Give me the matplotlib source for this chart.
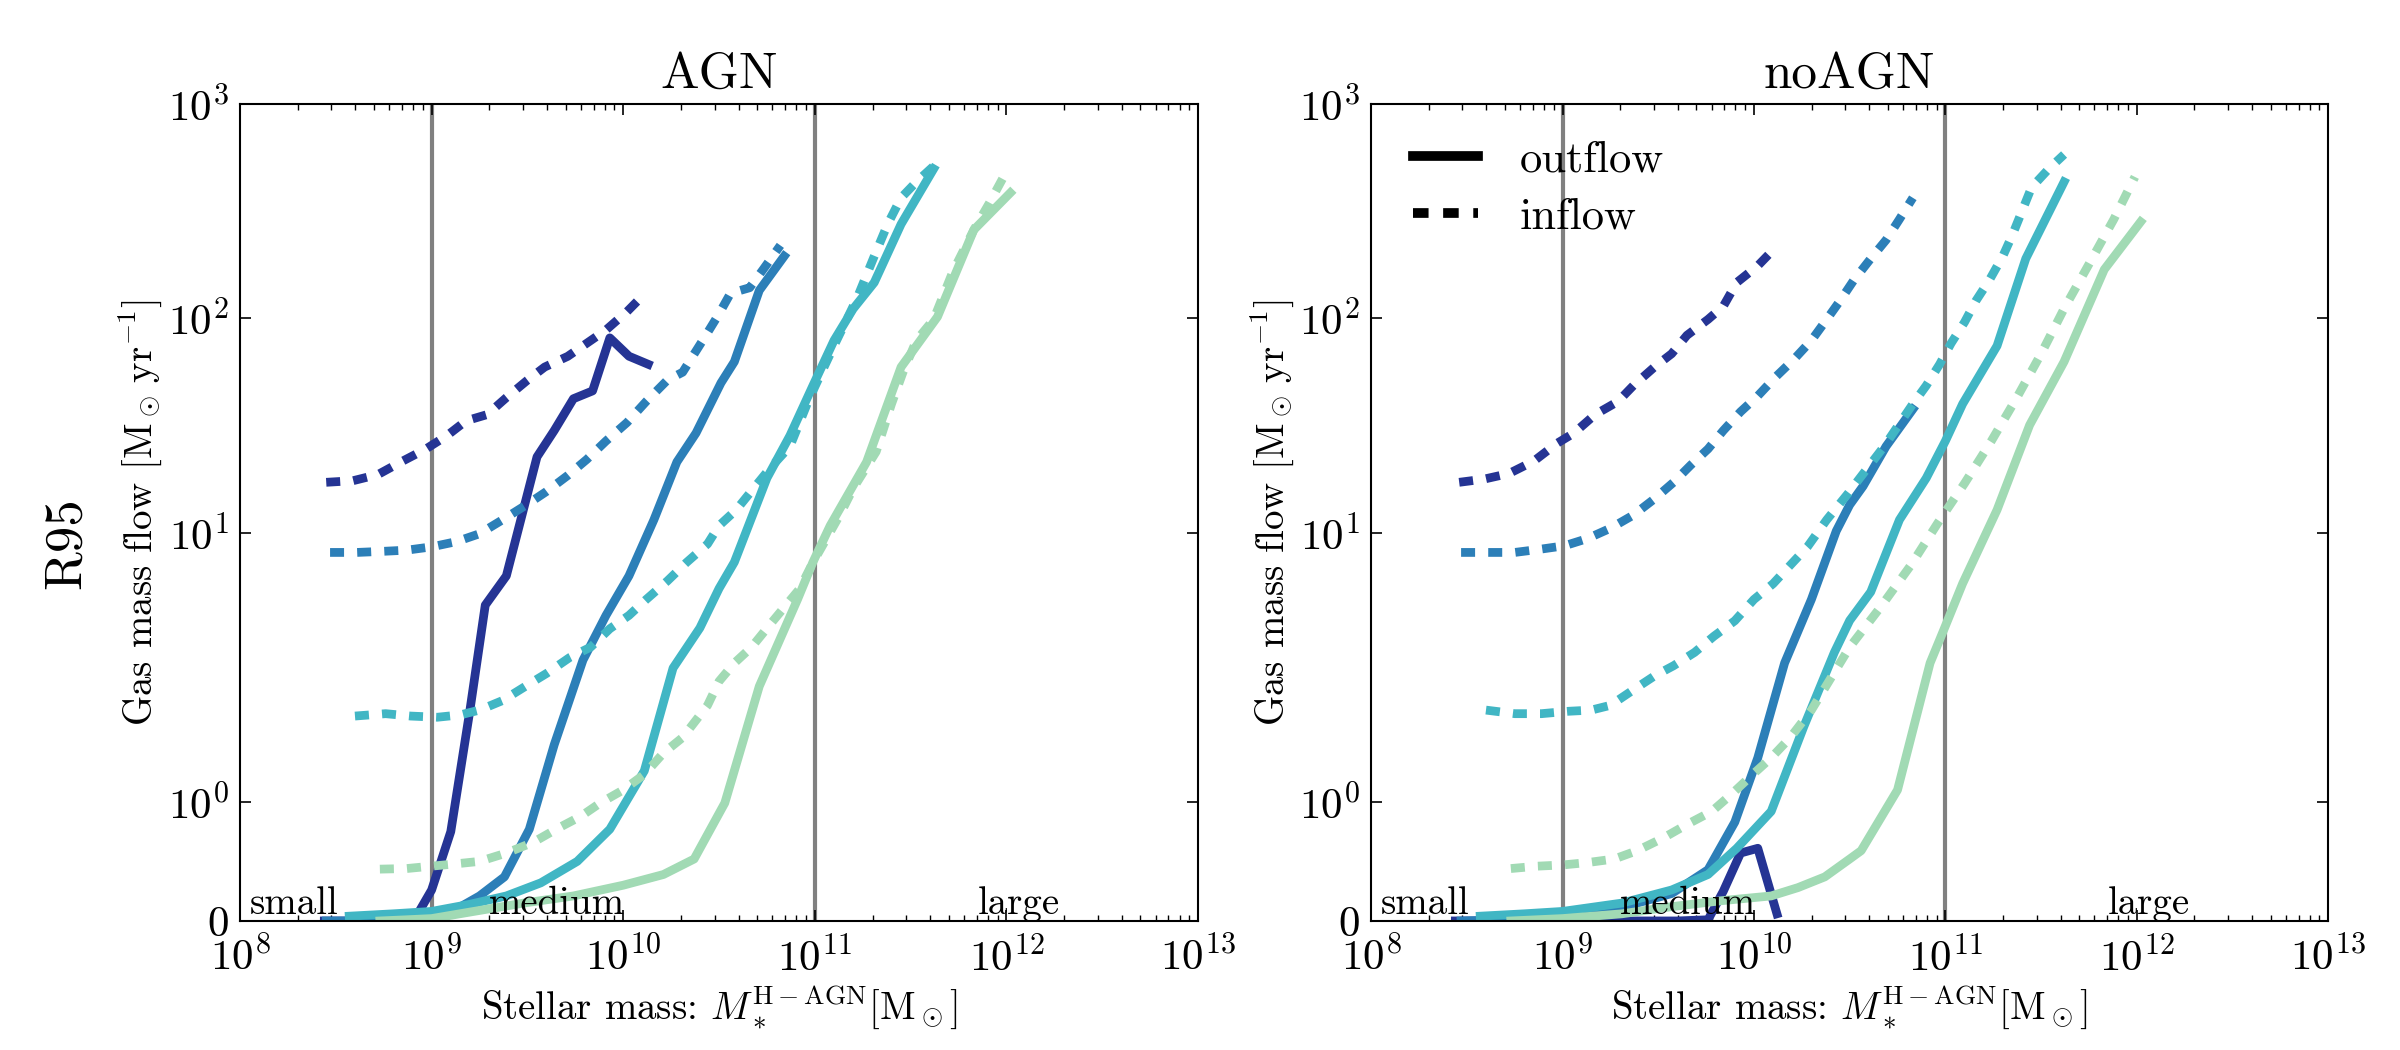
import numpy as np
import matplotlib
matplotlib.use("Agg")
import matplotlib.pyplot as plt
from matplotlib.lines import Line2D
from matplotlib.ticker import LogLocator, NullLocator, FixedLocator, FixedFormatter

plt.rcParams['font.family'] = 'serif'
plt.rcParams['font.serif'] = ['cmr10', 'DejaVu Serif']
plt.rcParams['mathtext.fontset'] = 'cm'
plt.rcParams['axes.formatter.use_mathtext'] = True
plt.rcParams['axes.unicode_minus'] = False

# ---------------- data ----------------
panel_titles = ['AGN', 'noAGN']
colors = ['#253494', '#2c7fb8', '#41b6c4', '#a1dab4']
region_labels = ['small', 'medium', 'large']
region_label_logm = [8.05, 9.30, 11.85]
region_label_y = 0.06
region_bounds = [1e9, 1e11]
ytick_vals = [0, 1, 10, 100, 1000]
ytick_labels = ['0', r'$\mathdefault{10^{0}}$', r'$\mathdefault{10^{1}}$',
                r'$\mathdefault{10^{2}}$', r'$\mathdefault{10^{3}}$']

# AGN, outflow (solid)
agn_out_navy_logm = [8.44, 8.55, 8.65, 8.75, 8.85, 8.91, 9.00, 9.10, 9.20, 9.28, 9.39, 9.55, 9.64, 9.74, 9.84, 9.93, 10.03, 10.13]
agn_out_navy = [0, 0, 0, 0, 0, 0.01, 0.26, 0.75, 1.77, 4.6, 6.3, 22.6, 30.0, 42.2, 45.9, 81.1, 66.6, 61.1]
agn_out_blue_logm = [8.45, 8.6, 8.75, 8.9, 9.00, 9.13, 9.25, 9.38, 9.51, 9.64, 9.79, 9.91, 10.03, 10.16, 10.28, 10.38, 10.51, 10.58, 10.71, 10.84]
agn_out_blue = [0, 0, 0, 0.01, 0.04, 0.10, 0.21, 0.37, 0.77, 1.48, 2.55, 4.12, 6.3, 11.5, 21.4, 29.2, 50.0, 62.8, 135, 195]
agn_out_cyan_logm = [8.57, 8.8, 9.00, 9.2, 9.39, 9.57, 9.76, 9.93, 10.11, 10.26, 10.40, 10.50, 10.58, 10.75, 10.87, 10.99, 11.10, 11.20, 11.31, 11.45, 11.62]
agn_out_cyan = [0.04, 0.06, 0.08, 0.14, 0.21, 0.32, 0.50, 0.77, 1.26, 2.34, 3.6, 5.5, 7.3, 18.0, 28.4, 48.6, 78.9, 110.8, 147, 275, 498]
agn_out_green_logm = [8.73, 8.87, 9.00, 9.22, 9.48, 9.74, 10.00, 10.21, 10.37, 10.53, 10.71, 10.91, 10.99, 11.08, 11.27, 11.45, 11.64, 11.83, 12.02]
agn_out_green = [0.0, 0.01, 0.02, 0.08, 0.15, 0.21, 0.30, 0.39, 0.52, 0.99, 1.97, 4.9, 7.3, 10.8, 21.4, 59.3, 101.7, 259, 385]

# AGN, inflow (dashed)
agn_in_navy_logm = [8.45, 8.59, 8.72, 8.84, 8.97, 9.08, 9.18, 9.29, 9.39, 9.50, 9.59, 9.71, 9.81, 9.91, 10.02, 10.11]
agn_in_navy = [17.2, 17.5, 18.7, 21.4, 24.6, 28.4, 33.3, 35.6, 42.7, 51.5, 59.3, 66.5, 76.6, 88.3, 107.6, 129.8]
agn_in_blue_logm = [8.47, 8.61, 8.75, 8.87, 9.00, 9.13, 9.25, 9.37, 9.50, 9.60, 9.71, 9.81, 9.91, 10.02, 10.12, 10.23, 10.31, 10.43, 10.50, 10.56, 10.66, 10.73, 10.82]
agn_in_blue = [8.1, 8.1, 8.2, 8.3, 8.6, 9.1, 9.9, 11.5, 13.6, 15.6, 18.5, 22.0, 26.8, 32.7, 41.0, 51.5, 56.1, 83, 105, 131, 139, 169, 219]
agn_in_cyan_logm = [8.60, 8.76, 8.89, 9.03, 9.15, 9.25, 9.37, 9.50, 9.60, 9.72, 9.83, 9.93, 10.03, 10.12, 10.23, 10.33, 10.44, 10.50, 10.59, 10.68, 10.77, 10.87, 10.96, 11.00, 11.10, 11.22, 11.31, 11.38, 11.45, 11.53, 11.62]
agn_in_cyan = [1.72, 1.74, 1.72, 1.71, 1.73, 1.77, 1.85, 1.98, 2.21, 2.62, 2.93, 3.57, 4.12, 4.89, 5.96, 7.27, 8.87, 10.8, 12.8, 16.1, 20.2, 25.3, 40, 48, 74.5, 124, 195, 275, 365, 433, 513]
agn_in_green_logm = [8.73, 8.87, 9.00, 9.13, 9.25, 9.39, 9.53, 9.65, 9.78, 9.88, 10.00, 10.11, 10.21, 10.31, 10.44, 10.50, 10.58, 10.67, 10.76, 10.84, 10.92, 10.99, 11.13, 11.20, 11.32, 11.40, 11.46, 11.53, 11.62, 11.72, 11.83, 11.91, 12.00]
agn_in_green = [0.435, 0.44, 0.46, 0.48, 0.50, 0.57, 0.66, 0.77, 0.88, 0.99, 1.10, 1.23, 1.41, 1.54, 1.81, 2.03, 2.47, 2.93, 3.68, 4.49, 5.47, 7.27, 12.1, 16.1, 23.9, 39.9, 56.1, 78.9, 98.9, 165, 259, 344, 484]

# noAGN, outflow (solid)
noagn_out_navy_logm = [8.44, 8.6, 8.8, 9.0, 9.2, 9.4, 9.6, 9.76, 9.84, 9.93, 10.02, 10.12]
noagn_out_navy = [0, 0, 0, 0, 0, 0, 0, 0.01, 0.25, 0.57, 0.61, 0.06]
noagn_out_blue_logm = [8.47, 8.7, 9.00, 9.22, 9.39, 9.57, 9.76, 9.90, 10.02, 10.16, 10.30, 10.43, 10.50, 10.57, 10.69, 10.83]
noagn_out_blue = [0, 0.01, 0.04, 0.08, 0.15, 0.23, 0.43, 0.83, 1.37, 2.47, 4.89, 10.2, 13.5, 16.5, 25.3, 37.7]
noagn_out_cyan_logm = [8.57, 8.8, 9.00, 9.31, 9.57, 9.76, 9.91, 10.09, 10.26, 10.42, 10.50, 10.61, 10.76, 10.90, 11.00, 11.09, 11.27, 11.42, 11.62]
noagn_out_cyan = [0.04, 0.06, 0.08, 0.15, 0.26, 0.39, 0.61, 0.92, 1.63, 2.77, 3.9, 5.3, 11.5, 18.0, 26.8, 39.9, 74.5, 190, 433]
noagn_out_green_logm = [8.73, 9.0, 9.31, 9.57, 9.83, 10.09, 10.23, 10.37, 10.50, 10.56, 10.75, 10.92, 11.00, 11.09, 11.27, 11.44, 11.62, 11.83, 12.02]
noagn_out_green = [0.0, 0.02, 0.06, 0.12, 0.17, 0.21, 0.28, 0.37, 0.52, 0.59, 1.10, 2.47, 3.68, 5.8, 12.8, 31.8, 62.8, 169, 282]

# noAGN, inflow (dashed)
noagn_in_navy_logm = [8.46, 8.59, 8.72, 8.85, 8.97, 9.06, 9.17, 9.29, 9.37, 9.48, 9.57, 9.65, 9.76, 9.84, 9.91, 10.02, 10.11]
noagn_in_navy = [17.2, 17.8, 18.9, 21.6, 26.1, 29.2, 35.6, 41.0, 48.6, 59.3, 68.4, 83.4, 98.9, 114, 147, 176, 213]
noagn_in_blue_logm = [8.47, 8.61, 8.75, 8.89, 9.01, 9.13, 9.25, 9.37, 9.48, 9.58, 9.67, 9.76, 9.84, 9.93, 10.02, 10.11, 10.21, 10.30, 10.38, 10.45, 10.52, 10.61, 10.69, 10.76, 10.83]
noagn_in_blue = [8.1, 8.1, 8.1, 8.4, 8.7, 9.4, 10.5, 12.1, 14.4, 17.2, 20.7, 24.6, 30.0, 36.7, 43.5, 53.0, 64.6, 78.9, 98.9, 121, 150, 190, 232, 290, 365]
noagn_in_cyan_logm = [8.60, 8.75, 8.89, 9.03, 9.15, 9.25, 9.37, 9.48, 9.58, 9.69, 9.79, 9.90, 10.00, 10.10, 10.19, 10.28, 10.38, 10.49, 10.68, 10.83, 10.90, 10.97, 11.03, 11.10, 11.16, 11.23, 11.30, 11.35, 11.40, 11.45, 11.54, 11.62]
noagn_in_cyan = [1.77, 1.74, 1.74, 1.76, 1.77, 1.81, 1.94, 2.15, 2.40, 2.77, 3.29, 3.89, 4.89, 5.79, 7.07, 8.62, 11.5, 15.2, 25.3, 39.9, 48.6, 61.1, 76.6, 96, 121, 151, 195, 245, 316, 408, 498, 581]
noagn_in_green_logm = [8.73, 8.87, 9.00, 9.13, 9.27, 9.39, 9.53, 9.65, 9.78, 9.88, 9.98, 10.09, 10.19, 10.30, 10.40, 10.50, 10.66, 10.82, 10.96, 11.10, 11.24, 11.37, 11.50, 11.62, 11.75, 11.88, 11.99]
noagn_in_green = [0.44, 0.46, 0.47, 0.49, 0.52, 0.59, 0.70, 0.81, 0.92, 1.06, 1.21, 1.37, 1.54, 1.77, 2.09, 2.93, 4.49, 7.07, 11.1, 17.0, 26.8, 42.2, 68.4, 111, 179, 290, 457]

panels = [
    {'out': [(agn_out_navy_logm, agn_out_navy), (agn_out_blue_logm, agn_out_blue),
             (agn_out_cyan_logm, agn_out_cyan), (agn_out_green_logm, agn_out_green)],
     'in': [(agn_in_navy_logm, agn_in_navy), (agn_in_blue_logm, agn_in_blue),
            (agn_in_cyan_logm, agn_in_cyan), (agn_in_green_logm, agn_in_green)]},
    {'out': [(noagn_out_navy_logm, noagn_out_navy), (noagn_out_blue_logm, noagn_out_blue),
             (noagn_out_cyan_logm, noagn_out_cyan), (noagn_out_green_logm, noagn_out_green)],
     'in': [(noagn_in_navy_logm, noagn_in_navy), (noagn_in_blue_logm, noagn_in_blue),
            (noagn_in_cyan_logm, noagn_in_cyan), (noagn_in_green_logm, noagn_in_green)]},
]

# ---------------- figure ----------------
fig = plt.figure(figsize=(24, 10.5), dpi=100)
fig.patch.set_facecolor('white')
ax_rects = [[0.1, 0.1229, 0.3992, 0.7781], [0.5713, 0.1229, 0.3988, 0.7781]]

LW = 6.3
DASH = (0, (1.6, 1.5))

for k, rect in enumerate(ax_rects):
    ax = fig.add_axes(rect)
    ax.set_xscale('log')
    ax.set_yscale('symlog', linthresh=2, linscale=1)
    ax.set_xlim(1e8, 1e13)
    ax.set_ylim(0, 1000)

    for xb in region_bounds:
        ax.axvline(xb, color='#808080', lw=3, zorder=1.5)

    for c, (lm, v) in zip(colors, panels[k]['out']):
        ax.plot(10 ** np.array(lm), v, color=c, lw=LW, ls='-', zorder=2)
    for c, (lm, v) in zip(colors, panels[k]['in']):
        ax.plot(10 ** np.array(lm), v, color=c, lw=LW, ls=DASH, zorder=2)

    for lab, lm in zip(region_labels, region_label_logm):
        ax.text(10 ** lm, region_label_y, lab, fontsize=28, ha='left', va='baseline', zorder=4)

    ax.yaxis.set_major_locator(FixedLocator(ytick_vals))
    ax.yaxis.set_major_formatter(FixedFormatter(ytick_labels))
    ax.yaxis.set_minor_locator(NullLocator())
    ax.xaxis.set_major_locator(LogLocator(base=10, numticks=10))
    ax.xaxis.set_minor_locator(LogLocator(base=10, subs=np.arange(2, 10), numticks=20))

    ax.tick_params(which='both', direction='in', top=True, right=True)
    ax.tick_params(which='major', length=8, width=1.2, labelsize=31)
    ax.tick_params(axis='x', which='major', pad=11)
    ax.tick_params(axis='y', which='major', pad=8)
    ax.tick_params(which='minor', length=4, width=1.0)
    for sp in ax.spines.values():
        sp.set_linewidth(1.5)

    ax.set_title(panel_titles[k], fontsize=37, pad=12)
    ax.set_xlabel(r'Stellar mass: $M_*^{\mathrm{H-AGN}}[\mathrm{M_\odot}]$', fontsize=28, labelpad=2)
    ax.set_ylabel(r'Gas mass flow $[\mathrm{M_\odot\,yr^{-1}}]$', fontsize=28)
    ax.yaxis.set_label_coords(-0.079, 0.5)

    if k == 1:
        handles = [Line2D([], [], color='black', lw=7, ls='-'),
                   Line2D([], [], color='black', lw=7, ls=DASH)]
        ax.legend(handles, ['outflow', 'inflow'], loc='upper left',
                  bbox_to_anchor=(0.044, 0.955), borderaxespad=0, borderpad=0,
                  frameon=False, fontsize=32, handlelength=1.45,
                  handletextpad=0.95, labelspacing=0.38)

fig.text(66 / 2400, 1 - 543 / 1050, 'R95', rotation=90, fontsize=38,
         ha='center', va='center')

fig.savefig('out.png', dpi=100, facecolor='white')
